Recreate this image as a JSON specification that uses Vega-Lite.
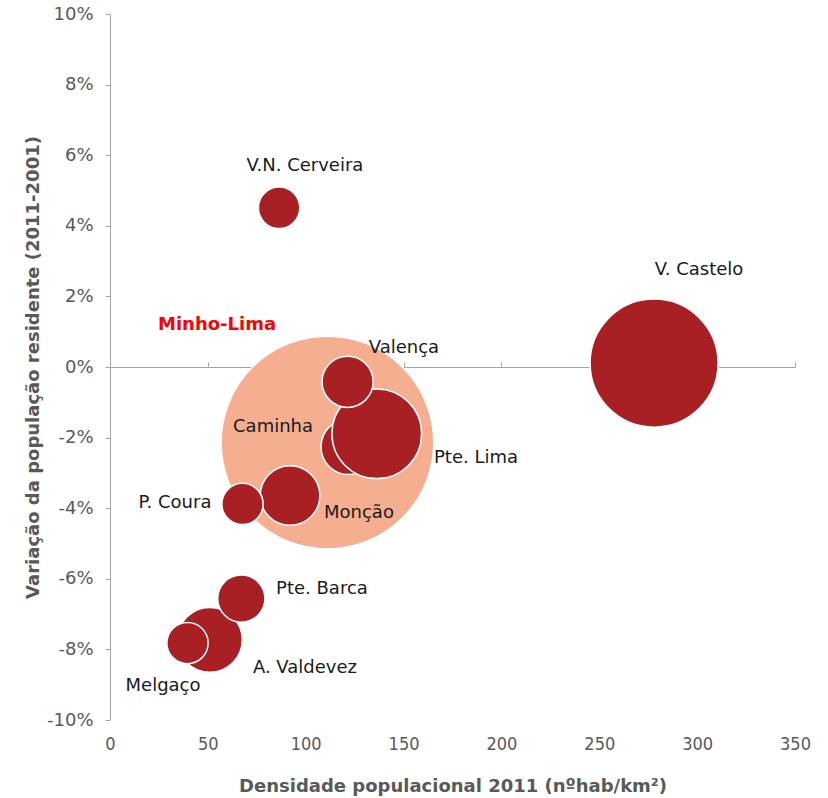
{
  "$schema": "https://vega.github.io/schema/vega-lite/v6.json",
  "width": 685,
  "height": 706,
  "autosize": "none",
  "padding": {"left": 110, "top": 14, "right": 33, "bottom": 78},
  "background": "white",
  "config": {"view": {"stroke": null}, "font": "DejaVu Sans"},
  "data": {
    "values": [
      {"nome": "Minho-Lima", "tipo": "sub-região", "dens": 111.1, "var": -2.14, "pop": 244836, "lx": 54.7, "ly": 1.19},
      {"nome": "A. Valdevez", "tipo": "município", "dens": 51.0, "var": -7.73, "pop": 22847, "lx": 99.6, "ly": -8.54},
      {"nome": "Caminha", "tipo": "município", "dens": 122.0, "var": -2.26, "pop": 16684, "lx": 83.3, "ly": -1.70},
      {"nome": "Melgaço", "tipo": "município", "dens": 39.6, "var": -7.82, "pop": 9213, "lx": 27.1, "ly": -9.05},
      {"nome": "Monção", "tipo": "município", "dens": 92.0, "var": -3.64, "pop": 19230, "lx": 127.2, "ly": -4.14},
      {"nome": "P. Coura", "tipo": "município", "dens": 67.7, "var": -3.88, "pop": 9198, "lx": 33.2, "ly": -3.86},
      {"nome": "Pte. Barca", "tipo": "município", "dens": 67.1, "var": -6.56, "pop": 12061, "lx": 108.3, "ly": -6.30},
      {"nome": "Pte. Lima", "tipo": "município", "dens": 136.3, "var": -1.89, "pop": 43498, "lx": 187.0, "ly": -2.58},
      {"nome": "Valença", "tipo": "município", "dens": 121.4, "var": -0.42, "pop": 14127, "lx": 150.2, "ly": 0.54},
      {"nome": "V. Castelo", "tipo": "município", "dens": 278.0, "var": 0.11, "pop": 88725, "lx": 301.0, "ly": 2.75},
      {"nome": "V.N. Cerveira", "tipo": "município", "dens": 86.4, "var": 4.51, "pop": 9253, "lx": 99.6, "ly": 5.70}
    ]
  },
  "layer": [
    {
      "mark": {"type": "circle", "opacity": 1, "stroke": "white", "strokeWidth": 1.5},
      "encoding": {
        "x": {
          "field": "dens", "type": "quantitative",
          "scale": {"domain": [0, 350], "nice": false},
          "axis": {
            "values": [0, 50, 100, 150, 200, 250, 300, 350],
            "domain": false, "ticks": false, "grid": false, "labelFlush": false,
            "labelFont": "DejaVu Sans Condensed", "labelFontSize": 18, "labelColor": "#595959",
            "labelPadding": 15,
            "title": "Densidade populacional 2011 (nºhab/km²)",
            "titleFont": "DejaVu Sans", "titleFontSize": 18, "titleFontWeight": "bold",
            "titleColor": "#595959", "titlePadding": 24
          }
        },
        "y": {
          "field": "var", "type": "quantitative",
          "scale": {"domain": [-10, 10], "nice": false},
          "axis": {
            "values": [-10, -8, -6, -4, -2, 0, 2, 4, 6, 8, 10],
            "labelExpr": "datum.value + '%'", "labelFlush": false,
            "grid": false, "domainColor": "#A6A6A6", "tickColor": "#A6A6A6",
            "tickSize": 5, "labelPadding": 12,
            "labelFont": "DejaVu Sans", "labelFontSize": 18, "labelColor": "#595959",
            "title": "Variação da população residente (2011-2001)",
            "titleFont": "DejaVu Sans", "titleFontSize": 18, "titleFontWeight": "bold",
            "titleColor": "#595959", "titlePadding": 4
          }
        },
        "size": {
          "field": "pop", "type": "quantitative",
          "scale": {"domain": [0, 244836], "range": [0, 45239], "zero": true},
          "legend": null
        },
        "color": {
          "field": "tipo", "type": "nominal",
          "scale": {"domain": ["sub-região", "município"], "range": ["#F5AE90", "#A81F24"]},
          "legend": null
        }
      }
    },
    {
      "transform": [{"filter": "datum.tipo === 'município'"}],
      "mark": {"type": "text", "font": "DejaVu Sans", "fontSize": 18, "color": "#1A1A1A", "align": "center", "baseline": "middle"},
      "encoding": {
        "x": {
          "field": "lx", "type": "quantitative",
          "scale": {"domain": [0, 350], "nice": false},
          "axis": {
            "values": [0, 50, 100, 150, 200, 250, 300, 350],
            "offset": -353, "labels": false, "title": null, "grid": false,
            "domain": true, "domainColor": "#A6A6A6", "ticks": true, "tickColor": "#A6A6A6", "tickSize": 5
          }
        },
        "y": {"field": "ly", "type": "quantitative", "scale": {"domain": [-10, 10], "nice": false}},
        "text": {"field": "nome"}
      }
    },
    {
      "transform": [{"filter": "datum.tipo === 'sub-região'"}],
      "mark": {"type": "text", "font": "DejaVu Sans", "fontSize": 18, "fontWeight": "bold", "color": "#FF0000", "align": "center", "baseline": "middle"},
      "encoding": {
        "x": {"field": "lx", "type": "quantitative", "scale": {"domain": [0, 350], "nice": false}, "axis": null},
        "y": {"field": "ly", "type": "quantitative", "scale": {"domain": [-10, 10], "nice": false}},
        "text": {"field": "nome"}
      }
    }
  ],
  "resolve": {"axis": {"x": "independent"}}
}
